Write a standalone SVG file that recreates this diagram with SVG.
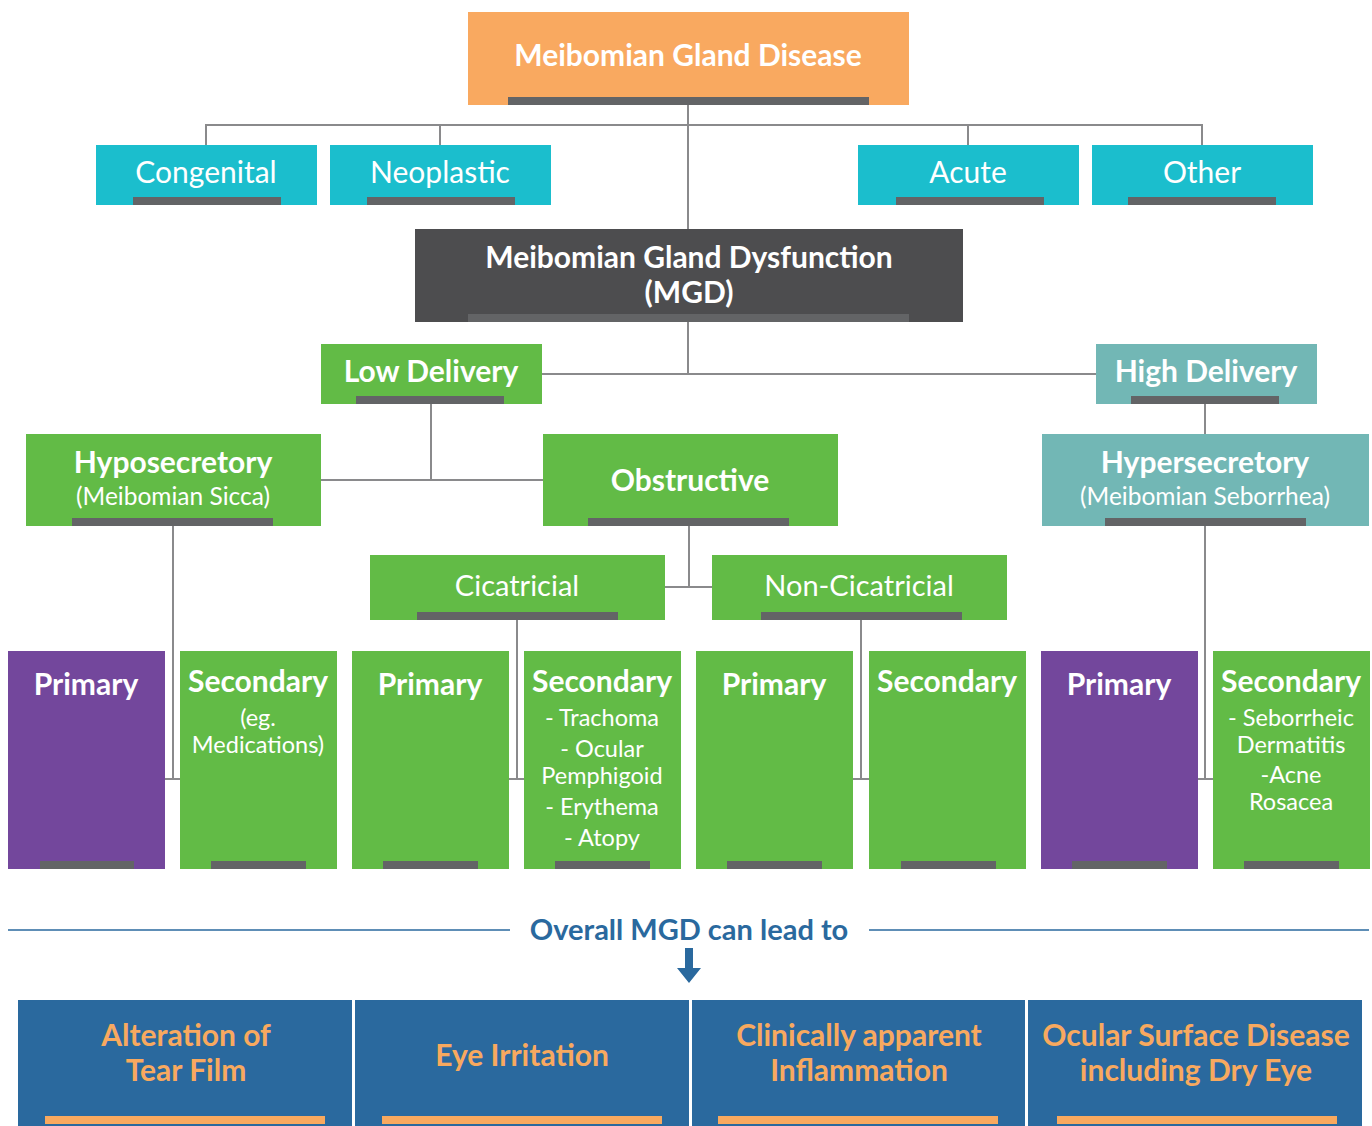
<svg xmlns="http://www.w3.org/2000/svg" width="1372" height="1126" viewBox="0 0 1372 1126">
<style>
text{font-family:Lato,"Open Sans","Liberation Sans",sans-serif;fill:#fff;text-anchor:middle}
.b{font-weight:700}
.bar{fill:#636466}
.obar{fill:#f8a95f}
.teal{fill:#1bbecd}
.green{fill:#62bb46}
.purple{fill:#73479c}
.blue{fill:#2a699e}
.sea{fill:#72b7b5}
.ln{stroke:#8a8a8c;stroke-width:2;fill:none}
.o{fill:#f8a95f;font-weight:700}
.h{font-size:30px;font-weight:700}
.s{font-size:24.5px}
.t{font-size:23.5px}
</style>
<rect width="1372" height="1126" fill="#fff"/>
<g id="connectors">
<path class="ln" d="M688 105V229M206 145V125H1202V145M440 125V145M968 125V145"/>
<path class="ln" d="M688 322V374M542 374H1096"/>
<path class="ln" d="M431 404V480M321 480H543"/>
<path class="ln" d="M1205 404V434"/>
<path class="ln" d="M689 526V587M665 587H712"/>
<path class="ln" d="M173 526V779M165 779H180"/>
<path class="ln" d="M517 620V779M509 779H524"/>
<path class="ln" d="M861 620V779M853 779H869"/>
<path class="ln" d="M1205 526V779M1198 779H1213"/>
<path d="M8 930H510M869 930H1369" stroke="#2a699e" stroke-width="1.5" fill="none"/>
<path d="M685 948H693V968H701L689 983L677 968H685Z" fill="#2a699e"/>
</g>
<g id="mgd-disease"><rect x="468" y="12" width="441" height="93" fill="#f9a960"/><rect class="bar" x="508" y="97" width="361" height="8"/><text class="h" x="688" y="66">Meibomian Gland Disease</text></g>
<g id="congenital"><rect class="teal" x="96" y="145" width="221" height="60"/><rect class="bar" x="133" y="197" width="148" height="8"/><text x="206" y="183" font-size="30">Congenital</text></g>
<g id="neoplastic"><rect class="teal" x="330" y="145" width="221" height="60"/><rect class="bar" x="367" y="197" width="148" height="8"/><text x="440" y="183" font-size="30">Neoplastic</text></g>
<g id="acute"><rect class="teal" x="858" y="145" width="221" height="60"/><rect class="bar" x="896" y="197" width="148" height="8"/><text x="968" y="183" font-size="30">Acute</text></g>
<g id="other"><rect class="teal" x="1092" y="145" width="221" height="60"/><rect class="bar" x="1128" y="197" width="148" height="8"/><text x="1202" y="183" font-size="30">Other</text></g>
<g id="mgd"><rect x="415" y="229" width="548" height="93" fill="#4d4d4f"/><rect class="bar" x="468" y="314" width="441" height="8"/><text class="h" x="689" y="268">Meibomian Gland Dysfunction</text><text class="h" x="689" y="303">(MGD)</text></g>
<g id="low-delivery"><rect class="green" x="321" y="344" width="221" height="60"/><rect class="bar" x="356" y="396" width="148" height="8"/><text class="h" x="431" y="382">Low Delivery</text></g>
<g id="high-delivery"><rect class="sea" x="1096" y="344" width="221" height="60"/><rect class="bar" x="1131" y="396" width="148" height="8"/><text class="h" x="1206" y="382">High Delivery</text></g>
<g id="hyposecretory"><rect class="green" x="26" y="434" width="295" height="92"/><rect class="bar" x="72" y="518" width="201" height="8"/><text class="h" x="173" y="473">Hyposecretory</text><text class="s" x="173" y="505">(Meibomian Sicca)</text></g>
<g id="obstructive"><rect class="green" x="543" y="434" width="295" height="92"/><rect class="bar" x="588" y="518" width="201" height="8"/><text class="h" x="690" y="491">Obstructive</text></g>
<g id="hypersecretory"><rect class="sea" x="1042" y="434" width="327" height="92"/><rect class="bar" x="1105" y="518" width="201" height="8"/><text class="h" x="1205" y="473">Hypersecretory</text><text class="s" x="1205" y="505">(Meibomian Seborrhea)</text></g>
<g id="cicatricial"><rect class="green" x="370" y="555" width="295" height="65"/><rect class="bar" x="417" y="612" width="201" height="8"/><text x="517" y="596" font-size="29">Cicatricial</text></g>
<g id="non-cicatricial"><rect class="green" x="712" y="555" width="295" height="65"/><rect class="bar" x="761" y="612" width="201" height="8"/><text x="859" y="596" font-size="29">Non-Cicatricial</text></g>
<g id="hypo-primary"><rect class="purple" x="8" y="651" width="157" height="218"/><rect class="bar" x="40" y="861" width="94" height="8"/><text class="h" x="86" y="695">Primary</text></g>
<g id="hypo-secondary"><rect class="green" x="180" y="651" width="157" height="218"/><rect class="bar" x="211" y="861" width="95" height="8"/><text class="h" x="258" y="692">Secondary</text><text class="t" x="258" y="726">(eg.</text><text class="t" x="258" y="753">Medications)</text></g>
<g id="cic-primary"><rect class="green" x="352" y="651" width="157" height="218"/><rect class="bar" x="383" y="861" width="95" height="8"/><text class="h" x="430" y="695">Primary</text></g>
<g id="cic-secondary"><rect class="green" x="524" y="651" width="157" height="218"/><rect class="bar" x="555" y="861" width="95" height="8"/><text class="h" x="602" y="692">Secondary</text><text class="t" x="602" y="726">- Trachoma</text><text class="t" x="602" y="757">- Ocular</text><text class="t" x="602" y="784">Pemphigoid</text><text class="t" x="602" y="815">- Erythema</text><text class="t" x="602" y="846">- Atopy</text></g>
<g id="noncic-primary"><rect class="green" x="696" y="651" width="157" height="218"/><rect class="bar" x="727" y="861" width="95" height="8"/><text class="h" x="774" y="695">Primary</text></g>
<g id="noncic-secondary"><rect class="green" x="869" y="651" width="157" height="218"/><rect class="bar" x="901" y="861" width="95" height="8"/><text class="h" x="947" y="692">Secondary</text></g>
<g id="hyper-primary"><rect class="purple" x="1041" y="651" width="157" height="218"/><rect class="bar" x="1072" y="861" width="95" height="8"/><text class="h" x="1119" y="695">Primary</text></g>
<g id="hyper-secondary"><rect class="green" x="1213" y="651" width="157" height="218"/><rect class="bar" x="1244" y="861" width="95" height="8"/><text class="h" x="1291" y="692">Secondary</text><text class="t" x="1291" y="726">- Seborrheic</text><text class="t" x="1291" y="753">Dermatitis</text><text class="t" x="1291" y="783">-Acne</text><text class="t" x="1291" y="810">Rosacea</text></g>
<g id="lead-to"><text class="b" x="689" y="940" font-size="29" style="fill:#2a699e">Overall MGD can lead to</text></g>
<g id="tear-film"><rect class="blue" x="18" y="1000" width="334" height="126"/><rect class="obar" x="45" y="1116" width="280" height="8"/><text class="o" x="186" y="1046" font-size="30">Alteration of</text><text class="o" x="186" y="1081" font-size="30">Tear Film</text></g>
<g id="eye-irritation"><rect class="blue" x="355" y="1000" width="334" height="126"/><rect class="obar" x="382" y="1116" width="280" height="8"/><text class="o" x="522" y="1066" font-size="30">Eye Irritation</text></g>
<g id="inflammation"><rect class="blue" x="692" y="1000" width="333" height="126"/><rect class="obar" x="718" y="1116" width="280" height="8"/><text class="o" x="859" y="1046" font-size="30">Clinically apparent</text><text class="o" x="859" y="1081" font-size="30">Inflammation</text></g>
<g id="ocular-surface"><rect class="blue" x="1028" y="1000" width="334" height="126"/><rect class="obar" x="1057" y="1116" width="280" height="8"/><text class="o" x="1196" y="1046" font-size="30">Ocular Surface Disease</text><text class="o" x="1196" y="1081" font-size="30">including Dry Eye</text></g>
</svg>
